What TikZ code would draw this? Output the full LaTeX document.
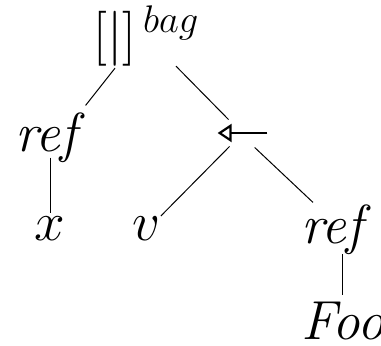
\RequirePackage{fix-cm}
\documentclass[tikz,border=0pt]{standalone}
\usepackage{amsmath,amssymb}
\usetikzlibrary{arrows.meta}

\begin{document}
\begin{tikzpicture}[x=0.5pt,y=-0.5pt,
  lbl/.style={font=\fontsize{27.5}{33}\selectfont, inner sep=0pt},
  edge/.style={line width=0.5pt}]
\useasboundingbox (0,0) rectangle (381,345);
\node[lbl, anchor=base west] (root) at (93.5,52) {$[|]^{\,bag}$};
\node[lbl, anchor=base west] (lref) at (15,151) {$\mathit{ref}$};
\node[lbl, anchor=base] (x) at (50,240) {$x$};
\node[lbl, anchor=base] (v) at (146.5,240) {$v$};
\node[lbl, anchor=base west] (rref) at (301,243) {$\mathit{ref}$};
\node[lbl, anchor=base west] (foo) at (301,339) {$\mathit{Foo}$};
\node[inner sep=0pt, minimum width=24.5pt, minimum height=13pt] (arr) at (242.5,133) {};
\draw[line width=1.1pt, -{Triangle[open, length=7pt, width=9pt, line width=1.1pt]}] (arr.east) -- (arr.west);
\draw[edge] ([shift={(21.5,2)}]root.south west) -- ([shift={(-3,-7)}]lref.north east);
\draw[edge] ([shift={(82.5,0)}]root.south west) -- ([shift={(11,0)}]arr.north west);
\draw[edge] ([shift={(12,0)}]arr.south west) -- (v.north east);
\draw[edge] ([shift={(37,1)}]arr.south west) -- ([shift={(12,-2)}]rref.north west);
\draw[edge, shorten <=-2.3pt, shorten >=1.5pt] (x.north |- lref.south) -- (x.north);
\draw[edge, shorten >=2.8pt] ([xshift=2.25pt]rref.south) -- ([xshift=2.25pt]rref.south |- foo.north);
\end{tikzpicture}
\end{document}
